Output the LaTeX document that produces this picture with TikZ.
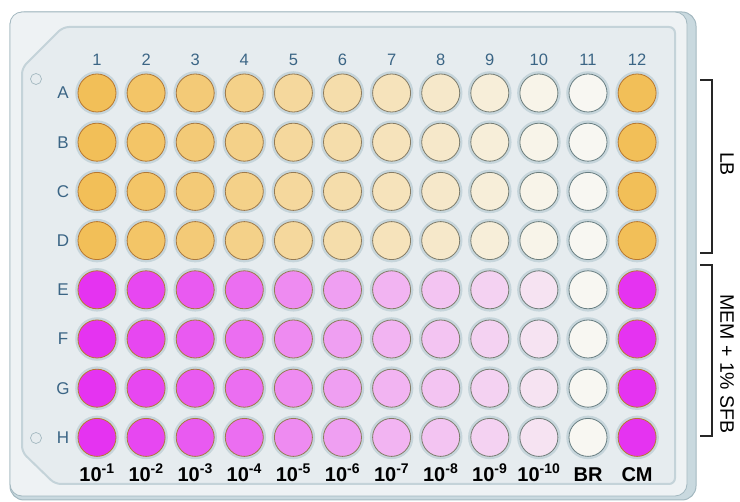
\documentclass[tikz,border=0pt]{standalone}
\usepackage{fontspec}
\setmainfont{Liberation Sans}
\usepackage{xcolor}
\usepackage{tikz}
\usetikzlibrary{positioning,calc}

\definecolor{plateSide}{HTML}{C9D9DF}
\definecolor{plateTop}{HTML}{EEF2F4}
\definecolor{plateIn}{HTML}{E6ECEF}
\definecolor{plateEdge}{HTML}{A3B8C0}
\definecolor{rimBlue}{HTML}{C4D3D9}
\definecolor{haloBlue}{HTML}{C6D5DB}
\definecolor{labelBlue}{HTML}{3B6585}
\definecolor{lbWell}{HTML}{F2BF58}
\definecolor{memWell}{HTML}{E533F1}
\definecolor{blankWell}{HTML}{F8F7F2}
\definecolor{lbEdge}{HTML}{B8772F}
\definecolor{grayEdge}{HTML}{687E82}

\begin{document}
\begin{tikzpicture}[x=1pt, y=-1pt, well/.style = {circle, draw, line width=0.8pt, minimum size=38pt, inner sep=0pt, preaction={draw=haloBlue, line width=5.5pt}}, axis/.style = {text=labelBlue, font=\fontsize{16.5}{16.5}\selectfont}, rowlab/.style = {text=labelBlue, font=\fontsize{17}{17}\selectfont}, dil/.style = {anchor=base, font=\fontsize{20}{20}\selectfont\bfseries}, bracket/.style = {draw=black!85, line width=1.3pt}, side/.style = {rotate=-90, font=\fontsize{19.5}{19.5}\selectfont}]

\useasboundingbox (0,0) rectangle (740,502);

% plate
\filldraw[draw=plateEdge, fill=plateSide, line width=1pt, rounded corners=14pt] (10,12) rectangle (696,500);
\filldraw[draw=plateEdge, fill=plateTop, line width=0.8pt, rounded corners=12pt] (10,12) rectangle (687,496);
\filldraw[draw=rimBlue, fill=plateIn, line width=2pt, rounded corners=6pt] (63,27) -- (675,27) -- (675,484) -- (55,484) -- (22,452) -- (22,68) -- cycle;
\filldraw[draw=plateEdge, fill=plateIn, line width=0.7pt] (36,79) circle (5.5);
\filldraw[draw=plateEdge, fill=plateIn, line width=0.7pt] (36,438) circle (5.5);

% wells
\foreach \c/\po/\pm in {1/100/100, 2/90/90, 3/80/80, 4/68/70, 5/55/55, 6/46/45, 7/36/34, 8/26/26, 9/16/19, 10/6/10, 11/0/0, 12/100/100} {
  \foreach \r [count=\i] in {A,B,C,D}
    \node[well, fill=lbWell!\po!blankWell, draw=lbEdge!\po!grayEdge] (\r\c) at ({97+49.1*(\c-1)},{93+49.2*(\i-1)}) {};
  \foreach \r [count=\i from 5] in {E,F,G,H}
    \node[well, fill=memWell!\pm!blankWell, draw=lbEdge!\pm!grayEdge] (\r\c) at ({97+49.1*(\c-1)},{93+49.2*(\i-1)}) {};
}

% labels
\foreach \c in {1,...,12}
  \node[axis] (n\c) at ([yshift=33pt]A\c) {\c};
\foreach \r in {A,...,H}
  \node[rowlab] (row\r) at ([xshift=-34pt]\r1) {\r};
\foreach \c in {1,...,10}
  \node[dil] (d\c) at ([yshift=-44pt]H\c) {10\textsuperscript{-\c}};
\node[dil] (d11) at ([yshift=-44pt]H11) {BR};
\node[dil] (d12) at ([yshift=-44pt]H12) {CM};

% media
\coordinate (lbTop) at (700,80);
\coordinate (lbBot) at (700,253);
\coordinate (memTop) at (700,265);
\coordinate (memBot) at (700,436);
\draw[bracket] (lbTop) -- ++(12,0) |- (lbBot);
\draw[bracket] (memTop) -- ++(12,0) |- (memBot);
\node[side] (lb) at (727,164) {LB};
\node[side] (mem) at (727,364) {MEM + 1\% SFB};
\end{tikzpicture}
\end{document}
